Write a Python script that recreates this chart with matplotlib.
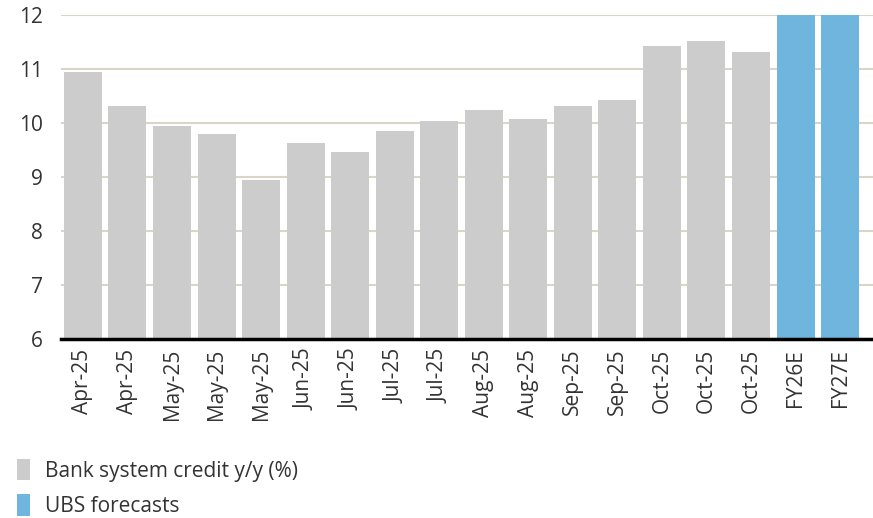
import matplotlib
matplotlib.use("Agg")
import matplotlib.pyplot as plt
from matplotlib.patches import Patch

categories = ["Apr-25", "Apr-25", "May-25", "May-25", "May-25", "Jun-25", "Jun-25",
              "Jul-25", "Jul-25", "Aug-25", "Aug-25", "Sep-25", "Sep-25",
              "Oct-25", "Oct-25", "Oct-25", "FY26E", "FY27E"]
values = [10.95, 10.31, 9.95, 9.80, 8.95, 9.63, 9.47, 9.86, 10.04, 10.25, 10.07,
          10.31, 10.43, 11.42, 11.51, 11.31, 12.0, 12.0]
is_forecast = [False] * 16 + [True, True]
y_ticks = [6, 7, 8, 9, 10, 11, 12]

GRAY = "#cccccc"
BLUE = "#6fb5dd"
TEXT = "#333333"

plt.rcParams['font.family'] = ['Open Sans', 'DejaVu Sans']

fig = plt.figure(figsize=(8.73, 5.18), dpi=100)
ax = fig.add_axes([0.0695, 0.3456, 0.9305, 0.6254])

x = list(range(len(categories)))
colors = [BLUE if f else GRAY for f in is_forecast]
ax.bar(x, values, width=0.853, color=colors, zorder=3)

ax.set_ylim(6, 12)
ax.set_xlim(-0.50, 17.74)
ax.set_yticks(y_ticks)
ax.set_yticklabels([str(t) for t in y_ticks], fontsize=15, color=TEXT)
ax.set_xticks(x)
ax.set_xticklabels(categories, rotation=90, fontsize=15, color=TEXT)
ax.tick_params(axis='both', length=0)
ax.tick_params(axis='y', pad=13)
ax.tick_params(axis='x', pad=7)

ax.grid(axis='y', color="#d9d6c9", linewidth=1.5, zorder=0)
for s in ['top', 'right', 'left']:
    ax.spines[s].set_visible(False)
ax.spines['bottom'].set_color('black')
ax.spines['bottom'].set_linewidth(2.5)
ax.spines['bottom'].set_zorder(4)

handles = [Patch(facecolor=GRAY, edgecolor='none', label='Bank system credit y/y (%)'),
           Patch(facecolor=BLUE, edgecolor='none', label='UBS forecasts')]
leg = fig.legend(handles=handles, loc='lower left', bbox_to_anchor=(0.005, -0.022),
                 frameon=False, fontsize=15, handlelength=0.65, handleheight=1.2,
                 handletextpad=0.7, labelspacing=0.6, borderaxespad=0.2)
for t in leg.get_texts():
    t.set_color(TEXT)

fig.savefig("out.png", dpi=100)
